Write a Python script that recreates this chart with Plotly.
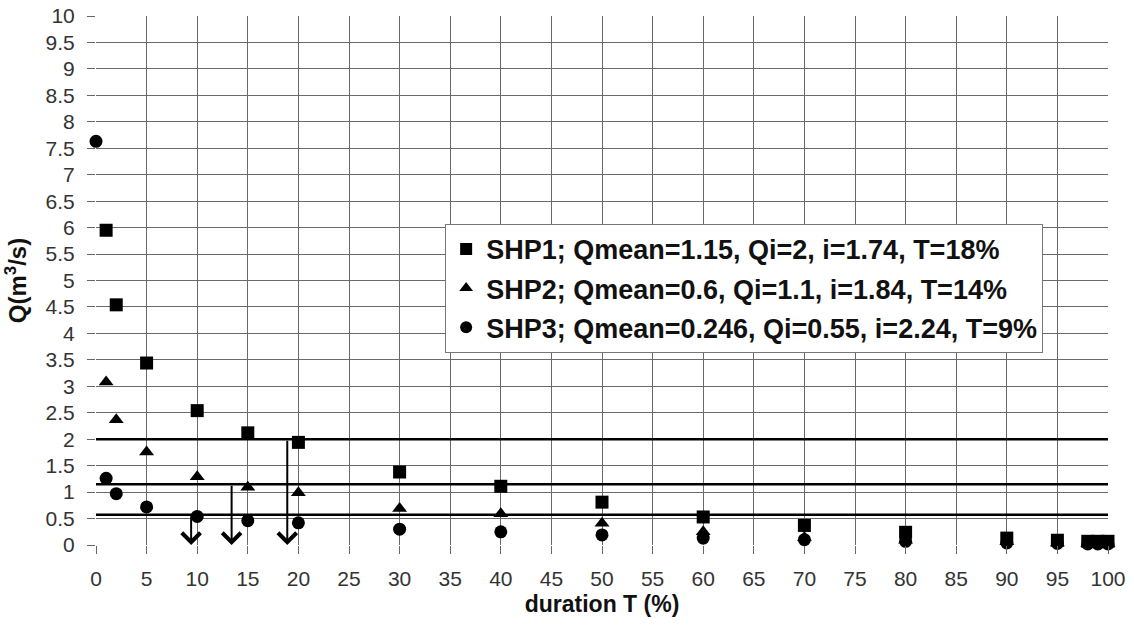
import plotly.graph_objects as go

# ---- data ----
T_shp1 = [1, 2, 5, 10, 15, 20, 30, 40, 50, 60, 70, 80, 90, 95, 98, 99, 100]
Q_shp1 = [5.95, 4.54, 3.44, 2.54, 2.12, 1.94, 1.38, 1.11, 0.81, 0.53, 0.37, 0.24, 0.13, 0.09, 0.07, 0.07, 0.07]

T_shp2 = [1, 2, 5, 10, 15, 20, 30, 40, 50, 60, 70, 80, 90, 95, 98, 99, 100]
Q_shp2 = [3.08, 2.37, 1.76, 1.29, 1.09, 0.99, 0.69, 0.59, 0.41, 0.25, 0.14, 0.09, 0.06, 0.04, 0.03, 0.03, 0.03]

T_shp3 = [0, 1, 2, 5, 10, 15, 20, 30, 40, 50, 60, 70, 80, 90, 95, 98, 99, 100]
Q_shp3 = [7.63, 1.26, 0.97, 0.72, 0.54, 0.46, 0.42, 0.30, 0.25, 0.19, 0.13, 0.10, 0.07, 0.04, 0.03, 0.02, 0.02, 0.02]

names = [
    "SHP1; Qmean=1.15, Qi=2, i=1.74, T=18%",
    "SHP2; Qmean=0.6, Qi=1.1, i=1.84, T=14%",
    "SHP3; Qmean=0.246, Qi=0.55, i=2.24, T=9%",
]
symbols = ["square", "triangle-up", "circle"]

# threshold levels (Qi) and their durations where arrows drop to the axis
qi_levels = [2.0, 1.15, 0.57]
t_levels = [18.9, 13.4, 9.4]

x_ticks = list(range(0, 101, 5))

fig = go.Figure()

series = [(T_shp1, Q_shp1), (T_shp2, Q_shp2), (T_shp3, Q_shp3)]
for i, ((tx, qy), nm, sym) in enumerate(zip(series, names, symbols)):
    fig.add_trace(go.Scatter(
        x=tx, y=qy, mode="markers", name=nm,
        legendgroup=f"g{i}",
        marker=dict(symbol=sym, size=13, color="black", line=dict(width=0)),
        cliponaxis=False,
    ))

# horizontal threshold lines
for q in qi_levels:
    fig.add_shape(type="line", xref="x", yref="y", x0=0, x1=100, y0=q, y1=q,
                  line=dict(color="black", width=2.5), layer="above")

# vertical arrows down to the axis
for q, t in zip(qi_levels, t_levels):
    fig.add_annotation(x=t, y=0, ax=t, ay=q, xref="x", yref="y", axref="x", ayref="y",
                       showarrow=True, arrowhead=4, arrowsize=1.8, arrowwidth=2,
                       arrowcolor="black", text="", standoff=0, startstandoff=0)

fig.update_layout(
    width=1134, height=625,
    margin=dict(l=96, r=26, t=16, b=80, autoexpand=False),
    paper_bgcolor="white", plot_bgcolor="white",
    font=dict(family="Liberation Sans, Arial, sans-serif", size=21, color="#333"),
    showlegend=True,
    legend=dict(
        x=0.345, y=0.607, xanchor="left", yanchor="top",
        bgcolor="white", bordercolor="#777", borderwidth=1,
        font=dict(family="Liberation Sans, Arial, sans-serif", size=27, color="#111", weight="bold"),
        traceorder="grouped", tracegroupgap=1,
        itemsizing="constant",
    ),
)

tick_font = dict(family="Liberation Sans, Arial, sans-serif", size=21, color="#333")

fig.update_xaxes(
    range=[0, 100], tickvals=x_ticks, ticks="outside", ticklen=8, tickcolor="#666",
    tickfont=tick_font, ticklabelstandoff=7, automargin=False,
    showgrid=True, gridcolor="#6a6a6a", gridwidth=1, zeroline=False,
    showline=False,
    title=dict(text="duration T (%)", standoff=6,
               font=dict(size=23, color="#111", weight="bold")),
)
fig.update_yaxes(
    range=[0, 10], dtick=0.5, ticks="outside", ticklen=8, tickcolor="#666",
    tickfont=tick_font, ticklabelstandoff=8, automargin=False,
    showgrid=True, gridcolor="#6a6a6a", gridwidth=1, zeroline=False,
    showline=False,
    title=dict(text="Q(m<sup>3</sup>/s)", standoff=12,
               font=dict(size=24, color="#111", weight="bold")),
)

fig.write_html("out.html")
